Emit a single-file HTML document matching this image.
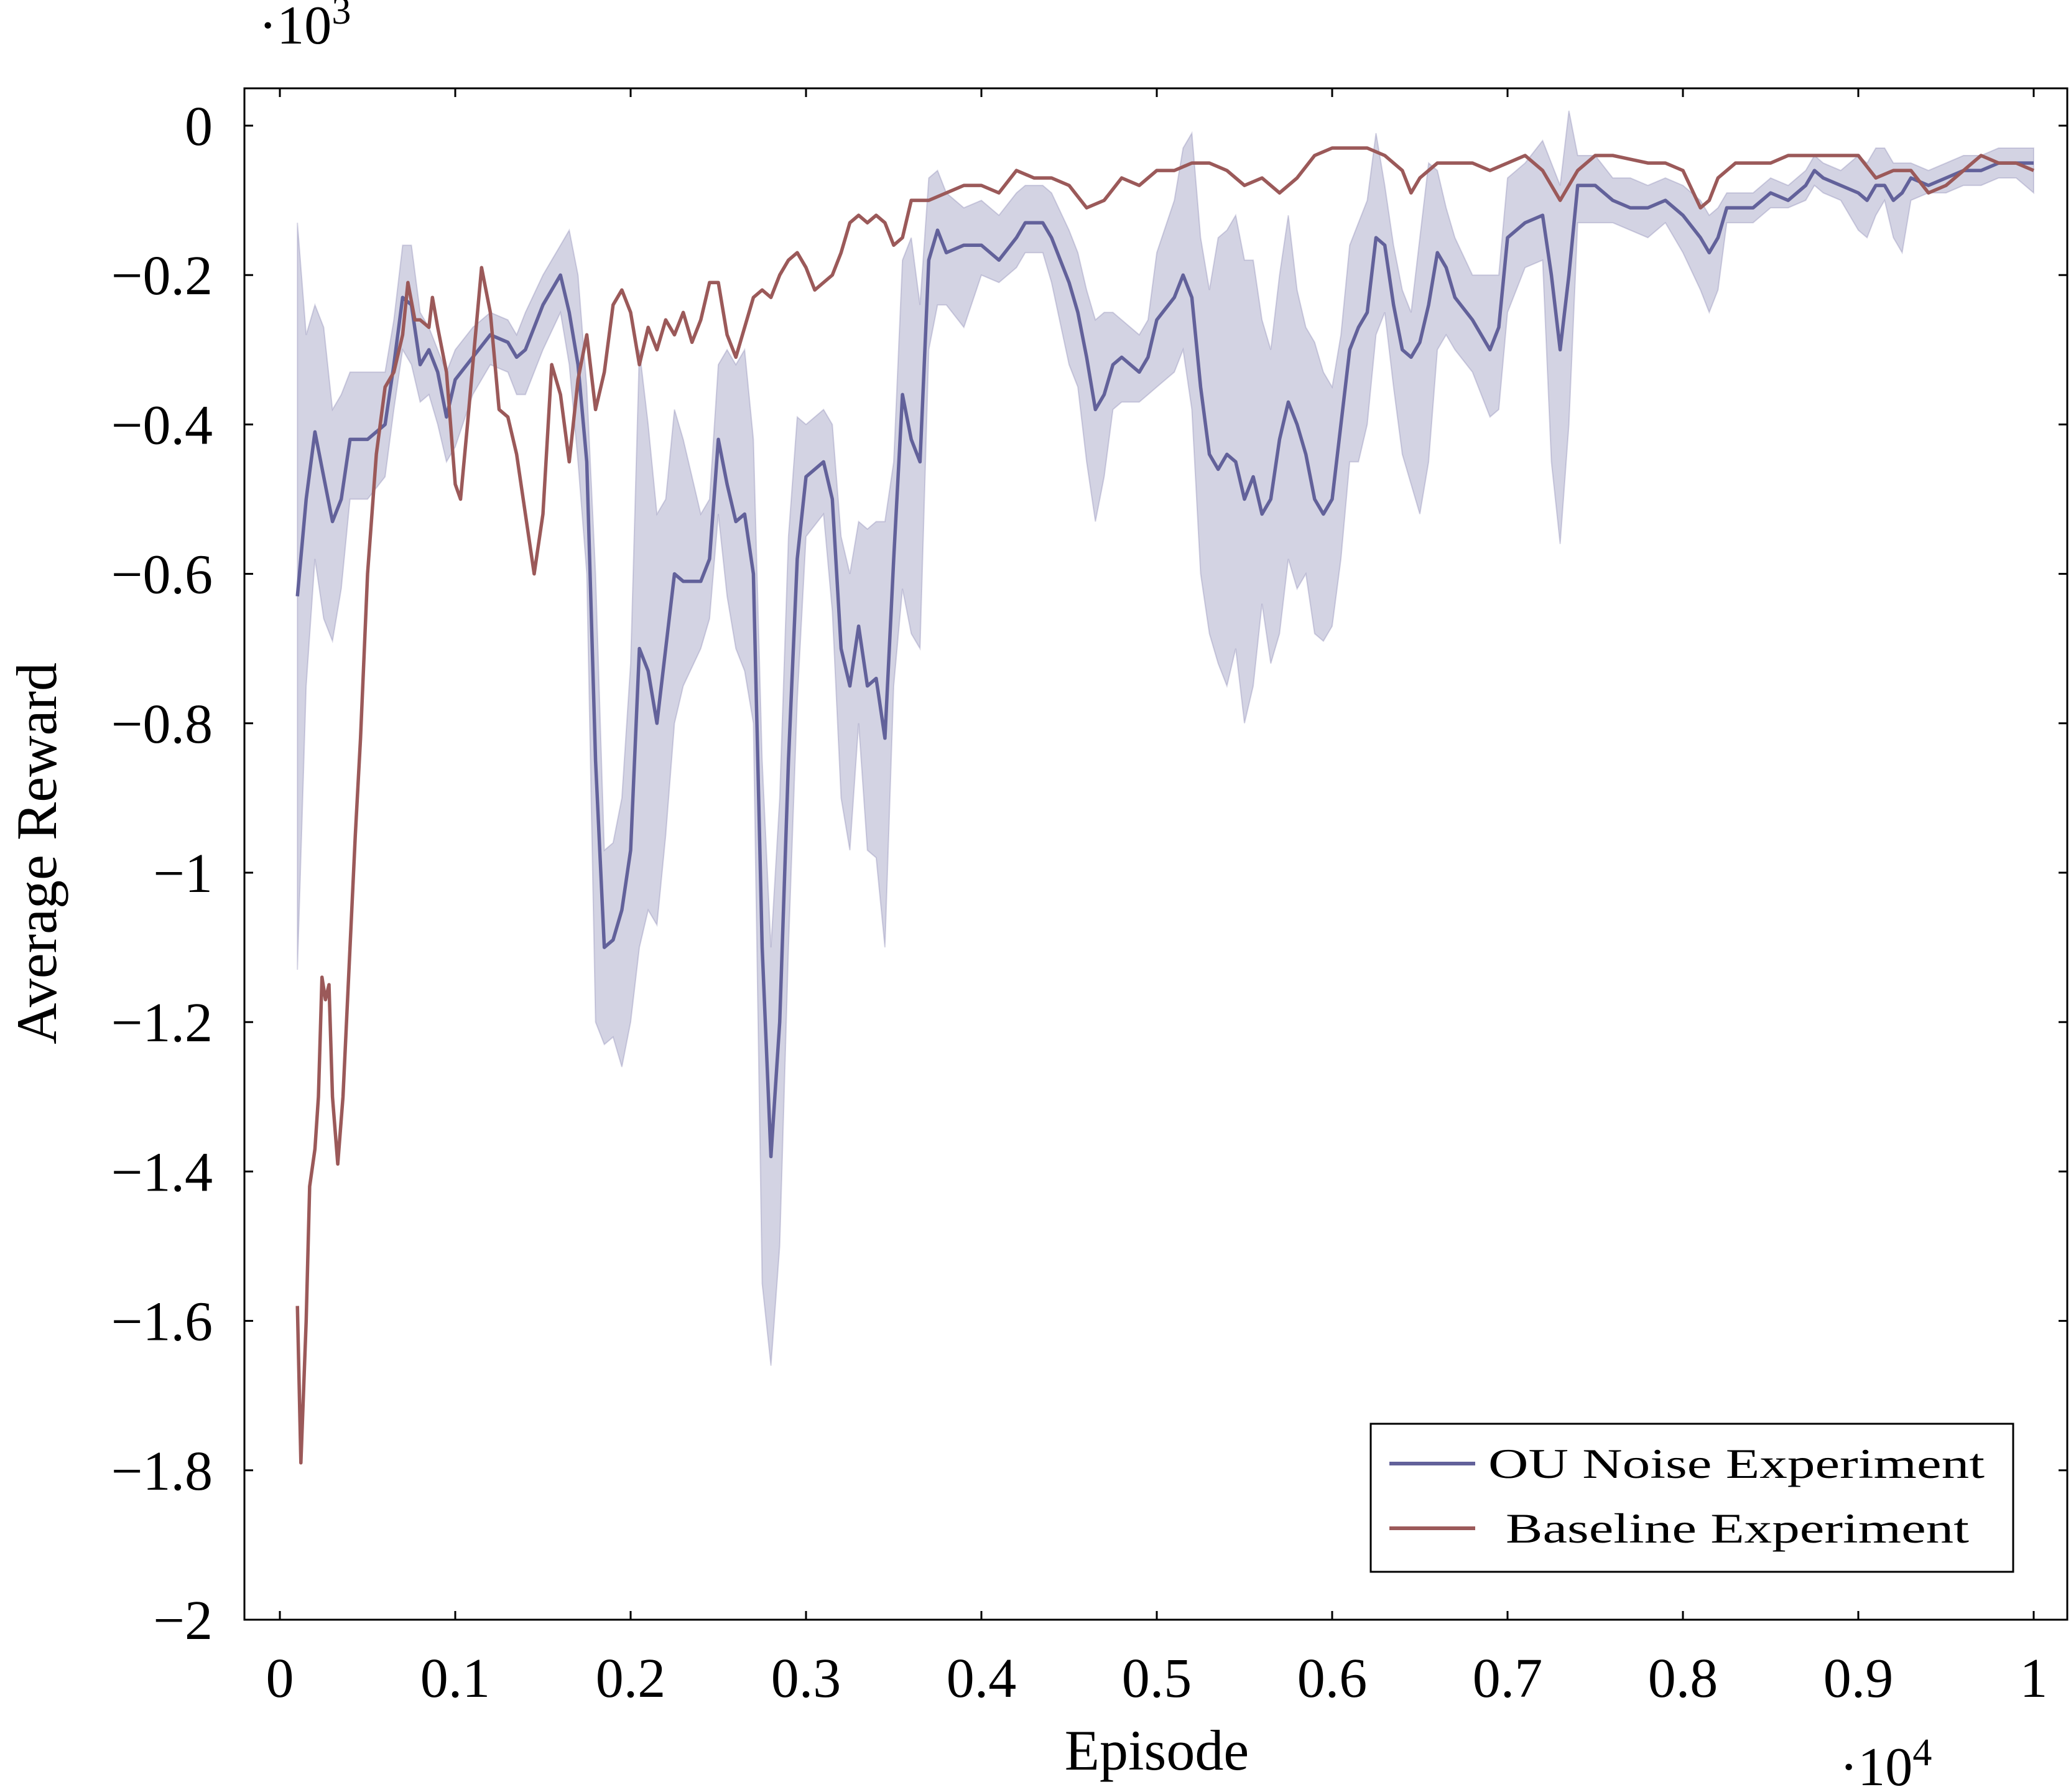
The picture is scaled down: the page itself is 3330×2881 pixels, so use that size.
<!DOCTYPE html>
<html><head><meta charset="utf-8"><style>
html,body{margin:0;padding:0;background:#fff}
svg{display:block}
text{font-family:"Liberation Serif",serif;fill:#000}
</style></head><body>
<svg id="chart" width="3330" height="2881" viewBox="0 0 3330 2881" xmlns="http://www.w3.org/2000/svg">
<rect x="0" y="0" width="3330" height="2881" fill="#fff"/>
<g id="plot"></g>
<g id="axes"></g>
<rect x="393" y="142" width="2931" height="2462" fill="none" stroke="#000" stroke-width="3"/>
<text x="416" y="70" font-size="88">·10<tspan dy="-32" font-size="62">3</tspan></text>
<text x="2958" y="2870" font-size="88">·10<tspan dy="-32" font-size="62">4</tspan></text>
<text x="1860" y="2845" font-size="92" text-anchor="middle">Episode</text>
<text transform="translate(90,1372) rotate(-90)" font-size="92" text-anchor="middle">Average Reward</text>
<g>
<rect x="2204" y="2289" width="1033" height="238" fill="#fff" stroke="#000" stroke-width="3"/>
<line x1="2234" y1="2353" x2="2372" y2="2353" stroke="#62619a" stroke-width="6"/>
<text x="2393" y="2376" font-size="68" textLength="798" lengthAdjust="spacingAndGlyphs">OU Noise Experiment</text>
<line x1="2234" y1="2457" x2="2372" y2="2457" stroke="#9b5959" stroke-width="6"/>
<text x="2421" y="2480" font-size="68" textLength="745" lengthAdjust="spacingAndGlyphs">Baseline Experiment</text>
</g>
</svg>
<script>
const ouX=[0.01,0.015,0.02,0.025,0.03,0.035,0.04,0.05,0.06,0.065,0.07,0.075,0.08,0.085,0.09,0.095,0.10,0.11,0.12,0.13,0.135,0.14,0.15,0.16,0.165,0.17,0.175,0.18,0.185,0.19,0.195,0.20,0.205,0.21,0.215,0.22,0.225,0.23,0.24,0.245,0.25,0.255,0.26,0.265,0.27,0.275,0.28,0.285,0.29,0.295,0.30,0.31,0.315,0.32,0.325,0.33,0.335,0.34,0.345,0.35,0.355,0.36,0.365,0.37,0.375,0.38,0.39,0.40,0.41,0.42,0.425,0.435,0.44,0.45,0.455,0.46,0.465,0.47,0.475,0.48,0.49,0.495,0.50,0.51,0.515,0.52,0.525,0.53,0.535,0.54,0.545,0.55,0.555,0.56,0.565,0.57,0.575,0.58,0.585,0.59,0.595,0.60,0.605,0.61,0.615,0.62,0.625,0.63,0.635,0.64,0.645,0.65,0.655,0.66,0.665,0.67,0.68,0.69,0.695,0.70,0.71,0.72,0.725,0.73,0.735,0.74,0.75,0.76,0.77,0.78,0.79,0.80,0.81,0.815,0.82,0.825,0.83,0.84,0.85,0.86,0.87,0.875,0.88,0.89,0.90,0.905,0.91,0.915,0.92,0.925,0.93,0.94,0.95,0.96,0.97,0.98,0.99,1.0];
const ouMean=[-0.63,-0.5,-0.41,-0.47,-0.53,-0.5,-0.42,-0.42,-0.40,-0.32,-0.23,-0.24,-0.32,-0.30,-0.33,-0.39,-0.34,-0.31,-0.28,-0.29,-0.31,-0.30,-0.24,-0.20,-0.25,-0.32,-0.45,-0.85,-1.10,-1.09,-1.05,-0.97,-0.70,-0.73,-0.80,-0.70,-0.60,-0.61,-0.61,-0.58,-0.42,-0.48,-0.53,-0.52,-0.60,-1.1,-1.38,-1.20,-0.85,-0.58,-0.47,-0.45,-0.50,-0.70,-0.75,-0.67,-0.75,-0.74,-0.82,-0.58,-0.36,-0.42,-0.45,-0.18,-0.14,-0.17,-0.16,-0.16,-0.18,-0.15,-0.13,-0.13,-0.15,-0.21,-0.25,-0.31,-0.38,-0.36,-0.32,-0.31,-0.33,-0.31,-0.26,-0.23,-0.20,-0.23,-0.35,-0.44,-0.46,-0.44,-0.45,-0.50,-0.47,-0.52,-0.50,-0.42,-0.37,-0.40,-0.44,-0.50,-0.52,-0.50,-0.40,-0.30,-0.27,-0.25,-0.15,-0.16,-0.24,-0.30,-0.31,-0.29,-0.24,-0.17,-0.19,-0.23,-0.26,-0.30,-0.27,-0.15,-0.13,-0.12,-0.20,-0.30,-0.20,-0.08,-0.08,-0.10,-0.11,-0.11,-0.10,-0.12,-0.15,-0.17,-0.15,-0.11,-0.11,-0.11,-0.09,-0.10,-0.08,-0.06,-0.07,-0.08,-0.09,-0.10,-0.08,-0.08,-0.10,-0.09,-0.07,-0.08,-0.07,-0.06,-0.06,-0.05,-0.05,-0.05];
const ouUpper=[-0.13,-0.28,-0.24,-0.27,-0.38,-0.36,-0.33,-0.33,-0.33,-0.26,-0.16,-0.16,-0.25,-0.27,-0.30,-0.33,-0.30,-0.27,-0.25,-0.26,-0.28,-0.25,-0.20,-0.16,-0.14,-0.20,-0.35,-0.60,-0.97,-0.96,-0.90,-0.72,-0.30,-0.40,-0.52,-0.50,-0.38,-0.42,-0.52,-0.50,-0.32,-0.30,-0.32,-0.30,-0.42,-0.85,-1.10,-0.90,-0.55,-0.39,-0.40,-0.38,-0.40,-0.55,-0.60,-0.53,-0.54,-0.53,-0.53,-0.45,-0.18,-0.15,-0.24,-0.07,-0.06,-0.09,-0.11,-0.10,-0.12,-0.09,-0.08,-0.08,-0.09,-0.14,-0.17,-0.22,-0.26,-0.25,-0.25,-0.26,-0.28,-0.26,-0.17,-0.10,-0.03,-0.01,-0.15,-0.22,-0.15,-0.14,-0.12,-0.18,-0.18,-0.26,-0.30,-0.20,-0.12,-0.22,-0.27,-0.29,-0.33,-0.35,-0.28,-0.16,-0.13,-0.10,-0.01,-0.08,-0.16,-0.22,-0.25,-0.15,-0.05,-0.06,-0.11,-0.15,-0.20,-0.20,-0.20,-0.07,-0.05,-0.02,-0.05,-0.08,0.02,-0.04,-0.04,-0.07,-0.07,-0.08,-0.07,-0.08,-0.10,-0.12,-0.11,-0.09,-0.09,-0.09,-0.07,-0.08,-0.06,-0.04,-0.05,-0.06,-0.04,-0.05,-0.03,-0.03,-0.05,-0.05,-0.05,-0.06,-0.05,-0.04,-0.04,-0.03,-0.03,-0.03];
const ouLower=[-1.13,-0.75,-0.58,-0.66,-0.69,-0.62,-0.50,-0.50,-0.47,-0.38,-0.30,-0.32,-0.37,-0.36,-0.40,-0.45,-0.43,-0.36,-0.32,-0.33,-0.36,-0.36,-0.30,-0.25,-0.32,-0.45,-0.6,-1.20,-1.23,-1.22,-1.26,-1.20,-1.10,-1.05,-1.07,-0.95,-0.80,-0.75,-0.70,-0.66,-0.52,-0.63,-0.70,-0.73,-0.80,-1.55,-1.66,-1.50,-1.10,-0.77,-0.55,-0.52,-0.65,-0.90,-0.97,-0.80,-0.97,-0.98,-1.10,-0.75,-0.62,-0.68,-0.70,-0.30,-0.24,-0.24,-0.27,-0.20,-0.21,-0.19,-0.17,-0.17,-0.21,-0.32,-0.35,-0.45,-0.53,-0.47,-0.38,-0.37,-0.37,-0.36,-0.35,-0.33,-0.30,-0.38,-0.60,-0.68,-0.72,-0.75,-0.70,-0.80,-0.75,-0.64,-0.72,-0.68,-0.58,-0.62,-0.60,-0.68,-0.69,-0.67,-0.58,-0.45,-0.45,-0.40,-0.28,-0.25,-0.35,-0.44,-0.48,-0.52,-0.45,-0.30,-0.28,-0.30,-0.33,-0.39,-0.38,-0.25,-0.19,-0.18,-0.45,-0.56,-0.40,-0.13,-0.13,-0.13,-0.14,-0.15,-0.13,-0.17,-0.22,-0.25,-0.22,-0.13,-0.13,-0.13,-0.11,-0.11,-0.10,-0.08,-0.09,-0.10,-0.14,-0.15,-0.12,-0.10,-0.15,-0.17,-0.10,-0.09,-0.09,-0.08,-0.08,-0.07,-0.07,-0.09];
const baseX=[0.01,0.012,0.015,0.017,0.02,0.022,0.024,0.026,0.028,0.03,0.033,0.036,0.04,0.043,0.046,0.05,0.055,0.06,0.065,0.07,0.073,0.077,0.08,0.085,0.087,0.09,0.095,0.10,0.103,0.107,0.11,0.115,0.12,0.125,0.13,0.135,0.14,0.145,0.15,0.155,0.16,0.165,0.17,0.175,0.18,0.185,0.19,0.195,0.20,0.205,0.21,0.215,0.22,0.225,0.23,0.235,0.24,0.245,0.25,0.255,0.26,0.265,0.27,0.275,0.28,0.285,0.29,0.295,0.30,0.305,0.31,0.315,0.32,0.325,0.33,0.335,0.34,0.345,0.35,0.355,0.36,0.37,0.38,0.39,0.40,0.41,0.42,0.43,0.44,0.45,0.46,0.47,0.48,0.49,0.50,0.51,0.52,0.53,0.54,0.55,0.56,0.57,0.58,0.59,0.60,0.61,0.62,0.63,0.64,0.645,0.65,0.66,0.67,0.68,0.69,0.70,0.71,0.72,0.73,0.74,0.75,0.76,0.78,0.79,0.80,0.81,0.815,0.82,0.83,0.84,0.85,0.86,0.87,0.88,0.89,0.90,0.91,0.92,0.93,0.94,0.95,0.96,0.97,0.98,0.99,1.0];
const baseVals=[-1.58,-1.79,-1.6,-1.42,-1.37,-1.3,-1.14,-1.17,-1.15,-1.3,-1.39,-1.3,-1.1,-0.95,-0.82,-0.6,-0.44,-0.35,-0.33,-0.28,-0.21,-0.26,-0.26,-0.27,-0.23,-0.27,-0.33,-0.48,-0.50,-0.40,-0.32,-0.19,-0.25,-0.38,-0.39,-0.44,-0.52,-0.60,-0.52,-0.32,-0.36,-0.45,-0.34,-0.28,-0.38,-0.33,-0.24,-0.22,-0.25,-0.32,-0.27,-0.30,-0.26,-0.28,-0.25,-0.29,-0.26,-0.21,-0.21,-0.28,-0.31,-0.27,-0.23,-0.22,-0.23,-0.20,-0.18,-0.17,-0.19,-0.22,-0.21,-0.20,-0.17,-0.13,-0.12,-0.13,-0.12,-0.13,-0.16,-0.15,-0.10,-0.10,-0.09,-0.08,-0.08,-0.09,-0.06,-0.07,-0.07,-0.08,-0.11,-0.10,-0.07,-0.08,-0.06,-0.06,-0.05,-0.05,-0.06,-0.08,-0.07,-0.09,-0.07,-0.04,-0.03,-0.03,-0.03,-0.04,-0.06,-0.09,-0.07,-0.05,-0.05,-0.05,-0.06,-0.05,-0.04,-0.06,-0.10,-0.06,-0.04,-0.04,-0.05,-0.05,-0.06,-0.11,-0.10,-0.07,-0.05,-0.05,-0.05,-0.04,-0.04,-0.04,-0.04,-0.04,-0.07,-0.06,-0.06,-0.09,-0.08,-0.06,-0.04,-0.05,-0.05,-0.06];
const xTicks=[0,0.1,0.2,0.3,0.4,0.5,0.6,0.7,0.8,0.9,1];
const xTickLabels=["0","0.1","0.2","0.3","0.4","0.5","0.6","0.7","0.8","0.9","1"];
const yTicks=[0,-0.2,-0.4,-0.6,-0.8,-1,-1.2,-1.4,-1.6,-1.8,-2];
const yTickLabels=["0","\u22120.2","\u22120.4","\u22120.6","\u22120.8","\u22121","\u22121.2","\u22121.4","\u22121.6","\u22121.8","\u22122"];

const NS="http://www.w3.org/2000/svg";
const X0=450,X1=3270,Y0=202,Y1=2604;
function sx(v){return X0+(v-0)*(X1-X0)/1;}
function sy(v){return Y0+(0-v)*(Y1-Y0)/2;}
const plot=document.getElementById('plot');
const axes=document.getElementById('axes');

let d="M"+ouX.map((x,i)=>sx(x).toFixed(1)+","+sy(ouUpper[i]).toFixed(1)).join("L");
for(let i=ouX.length-1;i>=0;i--) d+="L"+sx(ouX[i]).toFixed(1)+","+sy(ouLower[i]).toFixed(1);
d+="Z";
const band=document.createElementNS(NS,'path');
band.setAttribute('d',d);band.setAttribute('fill','#62619a');band.setAttribute('fill-opacity','0.28');
band.setAttribute('stroke','#62619a');band.setAttribute('stroke-opacity','0.25');band.setAttribute('stroke-width','2');


plot.appendChild(band);

const ouLine=document.createElementNS(NS,'polyline');
ouLine.setAttribute('points',ouX.map((x,i)=>sx(x).toFixed(1)+","+sy(ouMean[i]).toFixed(1)).join(" "));
ouLine.setAttribute('fill','none');ouLine.setAttribute('stroke','#62619a');ouLine.setAttribute('stroke-width','5.5');ouLine.setAttribute('stroke-linejoin','round');


plot.appendChild(ouLine);

const bLine=document.createElementNS(NS,'polyline');
bLine.setAttribute('points',baseX.map((x,i)=>sx(x).toFixed(1)+","+sy(baseVals[i]).toFixed(1)).join(" "));
bLine.setAttribute('fill','none');bLine.setAttribute('stroke','#9b5959');bLine.setAttribute('stroke-width','5.5');bLine.setAttribute('stroke-linejoin','round');


plot.appendChild(bLine);

xTicks.forEach((v,i)=>{
  const t=document.createElementNS(NS,'line');
  t.setAttribute('x1',sx(v));t.setAttribute('x2',sx(v));t.setAttribute('y1',2604);t.setAttribute('y2',2590);
  t.setAttribute('stroke','#000');t.setAttribute('stroke-width','3');
  
  
  axes.appendChild(t);
  const tt=document.createElementNS(NS,'line');
  tt.setAttribute('x1',sx(v));tt.setAttribute('x2',sx(v));tt.setAttribute('y1',142);tt.setAttribute('y2',156);
  tt.setAttribute('stroke','#000');tt.setAttribute('stroke-width','3');
  
  
  axes.appendChild(tt);
  const l=document.createElementNS(NS,'text');
  l.setAttribute('x',sx(v));l.setAttribute('y',2728);l.setAttribute('font-size','90');l.setAttribute('text-anchor','middle');
  l.textContent=xTickLabels[i];
  
  
  axes.appendChild(l);
});
yTicks.forEach((v,i)=>{
  const t=document.createElementNS(NS,'line');
  t.setAttribute('x1',393);t.setAttribute('x2',407);t.setAttribute('y1',sy(v));t.setAttribute('y2',sy(v));
  t.setAttribute('stroke','#000');t.setAttribute('stroke-width','3');
  
  
  axes.appendChild(t);
  const tr=document.createElementNS(NS,'line');
  tr.setAttribute('x1',3310);tr.setAttribute('x2',3324);tr.setAttribute('y1',sy(v));tr.setAttribute('y2',sy(v));
  tr.setAttribute('stroke','#000');tr.setAttribute('stroke-width','3');
  
  
  axes.appendChild(tr);
  const l=document.createElementNS(NS,'text');
  l.setAttribute('x',342);l.setAttribute('y',sy(v)+31);l.setAttribute('font-size','90');l.setAttribute('text-anchor','end');
  l.textContent=yTickLabels[i];
  
  
  axes.appendChild(l);
});
</script>
</body></html>
